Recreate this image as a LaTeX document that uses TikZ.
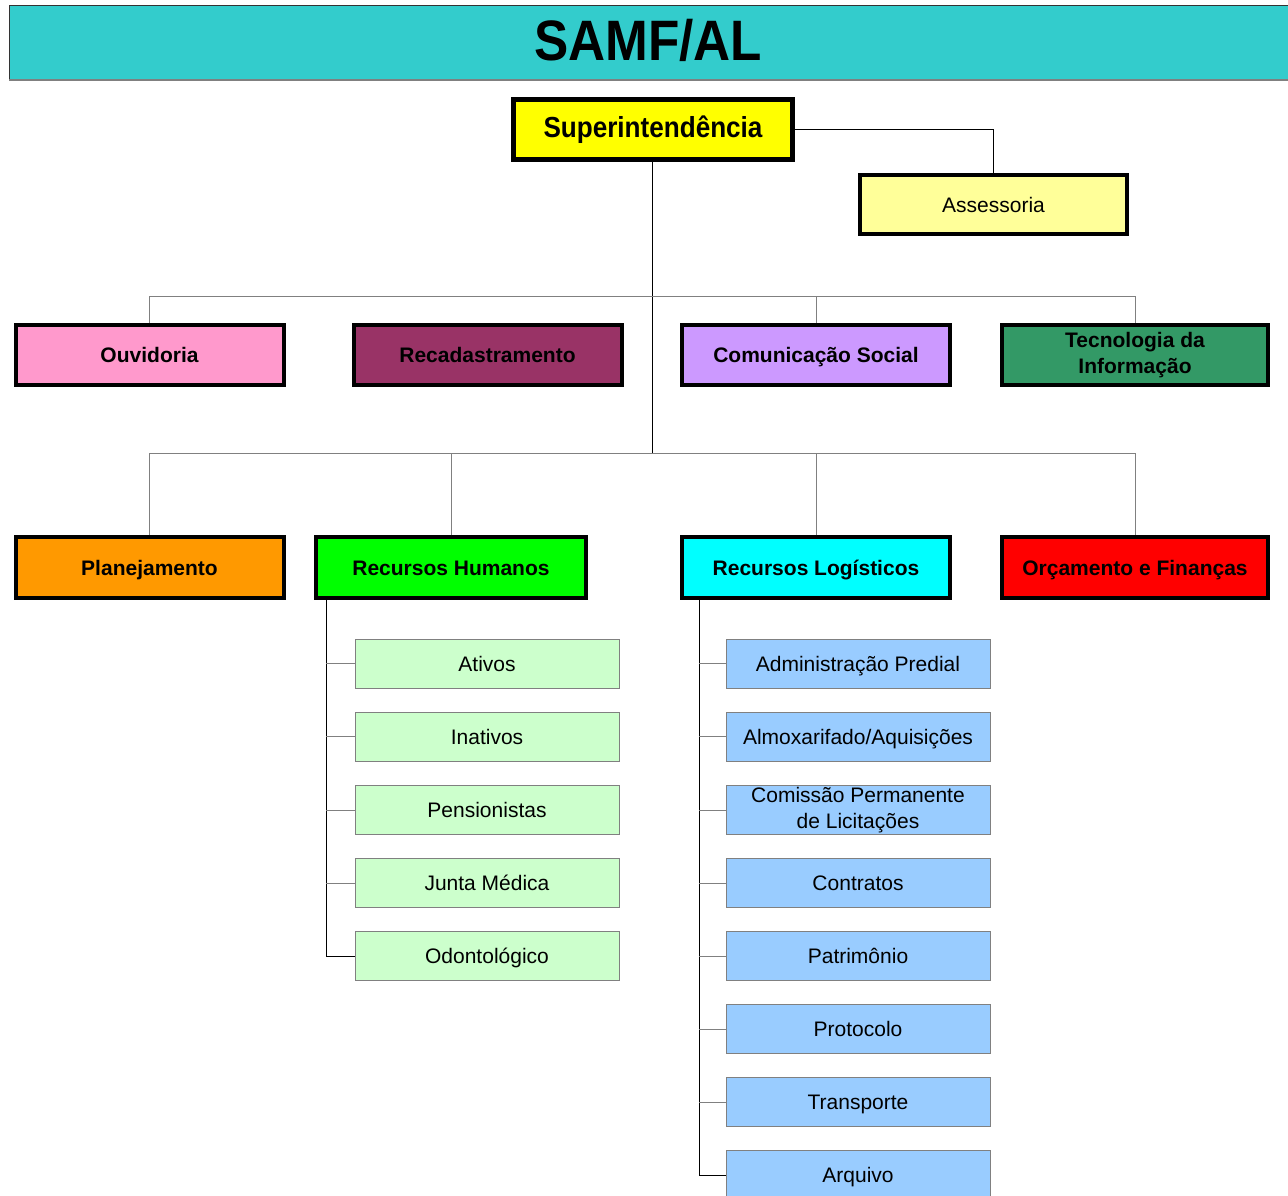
\documentclass[tikz,border=0pt]{standalone}
\usepackage{fontspec}
\setmainfont{Liberation Sans}
\newfontfamily\condfont{Liberation Sans}[FakeStretch=0.9]
\definecolor{titlebg}{HTML}{33CCCC}
\definecolor{supyel}{HTML}{FFFF00}
\definecolor{assyel}{HTML}{FFFF99}
\definecolor{ouvpink}{HTML}{FF99CC}
\definecolor{recmag}{HTML}{993366}
\definecolor{comlil}{HTML}{CC99FF}
\definecolor{tigreen}{HTML}{339966}
\definecolor{planor}{HTML}{FF9900}
\definecolor{rhgreen}{HTML}{00FF00}
\definecolor{rlcyan}{HTML}{00FFFF}
\definecolor{ofred}{HTML}{FF0000}
\definecolor{rhchild}{HTML}{CCFFCC}
\definecolor{rlchild}{HTML}{99CCFF}
\definecolor{linegray}{HTML}{808080}
\tikzset{
  mainbox/.style={draw=black, line width=4pt, rectangle, minimum width=268pt, minimum height=60pt, inner sep=0pt, align=center, font=\fontsize{21}{26}\selectfont\bfseries},
  childbox/.style={draw=linegray, line width=1pt, rectangle, minimum width=264pt, minimum height=49pt, inner sep=0pt, align=center, font=\fontsize{21}{26}\selectfont},
  single/.style={text height=15pt, text depth=0pt},
  grayline/.style={draw=linegray, line width=1pt},
  blackline/.style={draw=black, line width=1pt}
}
\begin{document}
\begin{tikzpicture}[x=1pt,y=-1pt]
\clip (0,0) rectangle (1288,1195);
\useasboundingbox (0,0) rectangle (1288,1195);
\fill[white] (0,0) rectangle (1288,1195);
% title bar
\draw[fill=titlebg, draw=black!80, line width=1pt] (9,5) rectangle (1300,80);
\draw[linegray, line width=1.5pt] (9,80) -- (1300,80);
\node[font=\condfont\fontsize{57}{60}\selectfont\bfseries] (title) at (648,40) {SAMF/AL};
% top
\node[mainbox, fill=supyel, line width=5pt, minimum width=279pt, minimum height=60pt, font=\condfont\fontsize{29}{32}\selectfont\bfseries] (sup) at (653,129.5) {Superintendência};
\node[mainbox, single, fill=assyel, minimum width=267pt, minimum height=59pt, font=\fontsize{21}{26}\selectfont] (ass) at (993.5,204.5) {Assessoria};
% row 1
\node[mainbox, single, fill=ouvpink] (ouv) at (149.5,355) {Ouvidoria};
\node[mainbox, single, fill=recmag] (rec) at (487.5,355) {Recadastramento};
\node[mainbox, single, fill=comlil] (com) at (816,355) {Comunicação Social};
\node[mainbox, fill=tigreen, minimum width=266pt] (ti) at (1135,355) {Tecnologia da\\Informação};
% row 2
\node[mainbox, single, fill=planor, minimum height=61pt] (plan) at (149.5,567.5) {Planejamento};
\node[mainbox, single, fill=rhgreen, minimum height=61pt, minimum width=270pt] (rh) at (451,567.5) {Recursos Humanos};
\node[mainbox, single, fill=rlcyan, minimum height=61pt] (rl) at (816,567.5) {Recursos Logísticos};
\node[mainbox, single, fill=ofred, minimum height=61pt, minimum width=266pt] (of) at (1135,567.5) {Orçamento e Finanças};
% RH children
\node[childbox, single, fill=rhchild] (ativ) at (487,663.5) {Ativos};
\node[childbox, single, fill=rhchild] (inat) at (487,736.5) {Inativos};
\node[childbox, single, fill=rhchild] (pens) at (487,810) {Pensionistas};
\node[childbox, single, fill=rhchild] (junta) at (487,883) {Junta Médica};
\node[childbox, single, fill=rhchild] (odon) at (487,956) {Odontológico};
% RL children
\node[childbox, single, fill=rlchild] (adm) at (858,663.5) {Administração Predial};
\node[childbox, single, fill=rlchild] (alm) at (858,736.5) {Almoxarifado/Aquisições};
\node[childbox, fill=rlchild] (cpl) at (858,810) {Comissão Permanente\\de Licitações};
\node[childbox, single, fill=rlchild] (cont) at (858,883) {Contratos};
\node[childbox, single, fill=rlchild] (pat) at (858,956) {Patrimônio};
\node[childbox, single, fill=rlchild] (prot) at (858,1029) {Protocolo};
\node[childbox, single, fill=rlchild] (transp) at (858,1102) {Transporte};
\node[childbox, single, fill=rlchild] (arq) at (858,1175) {Arquivo};
% coordinates
\coordinate (bus1) at (652,296);
\coordinate (bus2) at (652,453);
\coordinate (rhx) at (326,0);
\coordinate (rlx) at (699,0);
% connectors
\draw[blackline] (sup.east) -| (ass.north);
\draw[blackline] (sup.south -| bus1) -- (bus2);
\draw[grayline] (ouv.north) -- (ouv.north |- bus1) -- (ti.north |- bus1) -- (ti.north);
\draw[grayline] (com.north) -- (com.north |- bus1);
\draw[grayline] (plan.north) -- (plan.north |- bus2) -- (of.north |- bus2) -- (of.north);
\draw[grayline] (rh.north) -- (rh.north |- bus2);
\draw[grayline] (rl.north) -- (rl.north |- bus2);
% RH tree
\draw[blackline] (rhx |- rh.south) -- (rhx |- odon.west) -- (odon.west);
\foreach \n in {ativ,inat,pens,junta}{\draw[grayline] (rhx |- \n.west) -- (\n.west);}
% RL tree
\draw[blackline] (rlx |- rl.south) -- (rlx |- arq.west) -- (arq.west);
\foreach \n in {adm,alm,cpl,cont,pat,prot,transp}{\draw[grayline] (rlx |- \n.west) -- (\n.west);}
\end{tikzpicture}
\end{document}
